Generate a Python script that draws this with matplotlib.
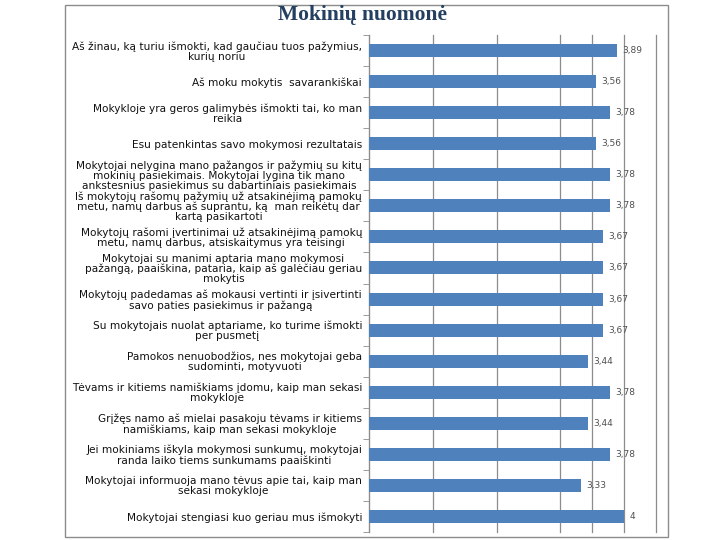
import matplotlib.pyplot as plt
from matplotlib.patches import Rectangle
import numpy as np

# Survey statements (top to bottom) and mean scores
labels = [
    "Aš žinau, ką turiu išmokti, kad gaučiau tuos pažymius,\nkurių noriu",
    "Aš moku mokytis  savarankiškai",
    "Mokykloje yra geros galimybės išmokti tai, ko man\nreikia",
    "Esu patenkintas savo mokymosi rezultatais",
    "Mokytojai nelygina mano pažangos ir pažymių su kitų\nmokinių pasiekimais. Mokytojai lygina tik mano\nankstesnius pasiekimus su dabartiniais pasiekimais",
    "Iš mokytojų rašomų pažymių už atsakinėjimą pamokų\nmetu, namų darbus aš suprantu, ką  man reikėtų dar\nkartą pasikartoti",
    "Mokytojų rašomi įvertinimai už atsakinėjimą pamokų\nmetu, namų darbus, atsiskaitymus yra teisingi",
    "Mokytojai su manimi aptaria mano mokymosi\npažangą, paaiškina, pataria, kaip aš galėčiau geriau\nmokytis",
    "Mokytojų padedamas aš mokausi vertinti ir įsivertinti\nsavo paties pasiekimus ir pažangą",
    "Su mokytojais nuolat aptariame, ko turime išmokti\nper pusmetį",
    "Pamokos nenuobodžios, nes mokytojai geba\nsudominti, motyvuoti",
    "Tėvams ir kitiems namiškiams įdomu, kaip man sekasi\nmokykloje",
    "Grįžęs namo aš mielai pasakoju tėvams ir kitiems\nnamiškiams, kaip man sekasi mokykloje",
    "Jei mokiniams iškyla mokymosi sunkumų, mokytojai\nranda laiko tiems sunkumams paaiškinti",
    "Mokytojai informuoja mano tėvus apie tai, kaip man\nsekasi mokykloje",
    "Mokytojai stengiasi kuo geriau mus išmokyti",
]
values = [3.89, 3.56, 3.78, 3.56, 3.78, 3.78, 3.67, 3.67,
          3.67, 3.67, 3.44, 3.78, 3.44, 3.78, 3.33, 4]

grid_vals = [0, 1, 2, 3, 3.5, 4, 4.5]

fig = plt.figure(figsize=(7.2, 5.4), dpi=100)

# outer chart frame
fig.patches.append(Rectangle((65 / 720, 1 - 537 / 540), 603 / 720, 532 / 540,
                             transform=fig.transFigure, fill=False,
                             edgecolor='#8c8c8c', lw=1.0))

ax = fig.add_axes([369 / 720, 1 - 532 / 540, 287 / 720, 497 / 540])

y = np.arange(len(labels))
ax.barh(y, values, height=0.42, color='#4F81BD', zorder=3)

for yi, v in zip(y, values):
    txt = f"{v:g}".replace('.', ',')
    ax.text(v + 0.08, yi, txt, va='center', ha='left', fontsize=6.5,
            color='#505050')

ax.set_xlim(0, 4.5)
ax.set_ylim(len(labels) - 0.5, -0.5)

for g in grid_vals:
    ax.axvline(g, color='#8c8c8c', lw=0.9, zorder=1, clip_on=False)

ax.set_xticks([])
ax.set_yticks(y)
ax.set_yticklabels(labels, fontsize=7.6, color='#111111',
                   multialignment='center', linespacing=1.0)
ax.set_yticks(np.arange(-0.5, len(labels), 1), minor=True)
ax.tick_params(axis='y', which='major', length=0, pad=5)
ax.tick_params(axis='y', which='minor', length=4, color='#8c8c8c', direction='out')

for s in ['top', 'right', 'bottom']:
    ax.spines[s].set_visible(False)
ax.spines['left'].set_color('#8c8c8c')

fig.text(363 / 720, 1 - 15 / 540, "Mokinių nuomonė", ha='center', va='center',
         fontsize=15.5, fontweight='bold', family='Liberation Serif',
         color='#243F60')

plt.savefig("out.png", dpi=100)
